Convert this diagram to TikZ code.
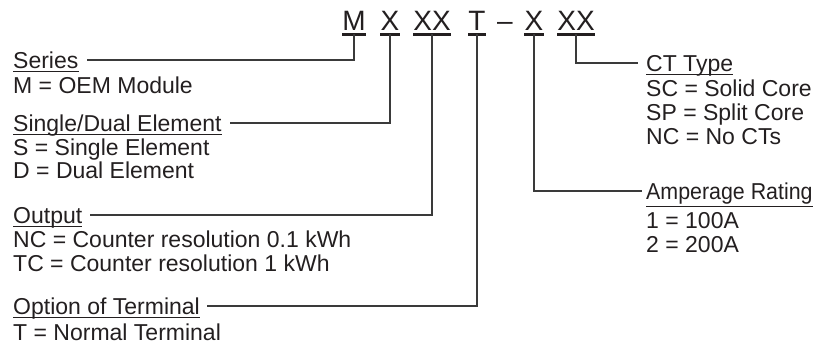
\documentclass[tikz,border=0pt]{standalone}
\usepackage{fontspec}
\usepackage{graphicx}
\setmainfont{Liberation Sans}
\definecolor{ink}{HTML}{231F20}
\definecolor{wirec}{HTML}{3A3A3A}
\begin{document}
\begin{tikzpicture}[x=1pt,y=-1pt,
  lbl/.style={font=\fontsize{23}{24}\selectfont, text=ink, inner sep=0pt, anchor=base west},
  head/.style={lbl, text height=16pt, text depth=0pt},
  code/.style={font=\fontsize{28}{30}\selectfont, text=ink, inner sep=0pt, anchor=base},
  wire/.style={draw=wirec, line width=1.3pt},
  uline/.style={draw=ink, line width=1.2pt},
  cline/.style={draw=ink, line width=2.4pt}]
\useasboundingbox (0,0) rectangle (827,345);
% code letters
\node[code] (cM) at (354,31) {M};
\node[code] (cXa) at (390,31) {X};
\node[code] (cXXa) at (432,31) {XX};
\node[code] (cT) at (477,31) {T};
\node[code] (cdash) at (505,31) {--};
\node[code] (cXb) at (534,31) {X};
\node[code] (cXXb) at (576,31) {XX};
\foreach \n in {cM,cXa,cXXa,cT,cXb,cXXb}
  \draw[cline] ([yshift=-3.5pt]\n.base west) -- ([yshift=-3.5pt]\n.base east);
% left headings
\node[head] (series) at (13,68) {Series};
\node[lbl] (seriesv) at (13,93) {M = OEM Module};
\node[head] (sde) at (13,131) {Single/Dual Element};
\node[lbl] (sdev1) at (13,155) {S = Single Element};
\node[lbl] (sdev2) at (13,178) {D = Dual Element};
\node[head] (output) at (13,223) {Output};
\node[lbl] (outv1) at (13,247) {NC = Counter resolution 0.1 kWh};
\node[lbl] (outv2) at (13,271) {TC = Counter resolution 1 kWh};
\node[head] (option) at (13,314) {Option of Terminal};
\node[lbl] (optv) at (13,340) {T = Normal Terminal};
% right headings
\node[head] (ct) at (646,71) {CT Type};
\node[lbl] (ctv1) at (646,96) {SC = Solid Core};
\node[lbl] (ctv2) at (646,120) {SP = Split Core};
\node[lbl] (ctv3) at (646,144) {NC = No CTs};
\node[head] (amp) at (646,199) {\scalebox{0.93}[1]{Amperage Rating}};
\node[lbl] (ampv1) at (646,228) {1 = 100A};
\node[lbl] (ampv2) at (646,252) {2 = 200A};
% underlines
\foreach \n in {series,sde,output,option,ct}
  \draw[uline] ([yshift=-3pt]\n.south west) -- ([yshift=-3pt]\n.south east);
\draw[uline] ([yshift=-7pt]amp.south west) -- ([yshift=-7pt]amp.south east);
% connectors
\draw[wire] ([yshift=-3.5pt]cM.base) |- ([xshift=8pt]series.east);
\draw[wire] ([yshift=-3.5pt]cXa.base) |- ([xshift=8pt]sde.east);
\draw[wire] ([yshift=-3.5pt]cXXa.base) |- ([xshift=8pt]output.east);
\draw[wire] ([yshift=-3.5pt]cT.base) |- ([xshift=7pt]option.east);
\draw[wire] ([yshift=-3.5pt]cXb.base) |- ([xshift=-4pt]amp.west);
\draw[wire] ([yshift=-3.5pt]cXXb.base) |- ([xshift=-8pt]ct.west);
\end{tikzpicture}
\end{document}
